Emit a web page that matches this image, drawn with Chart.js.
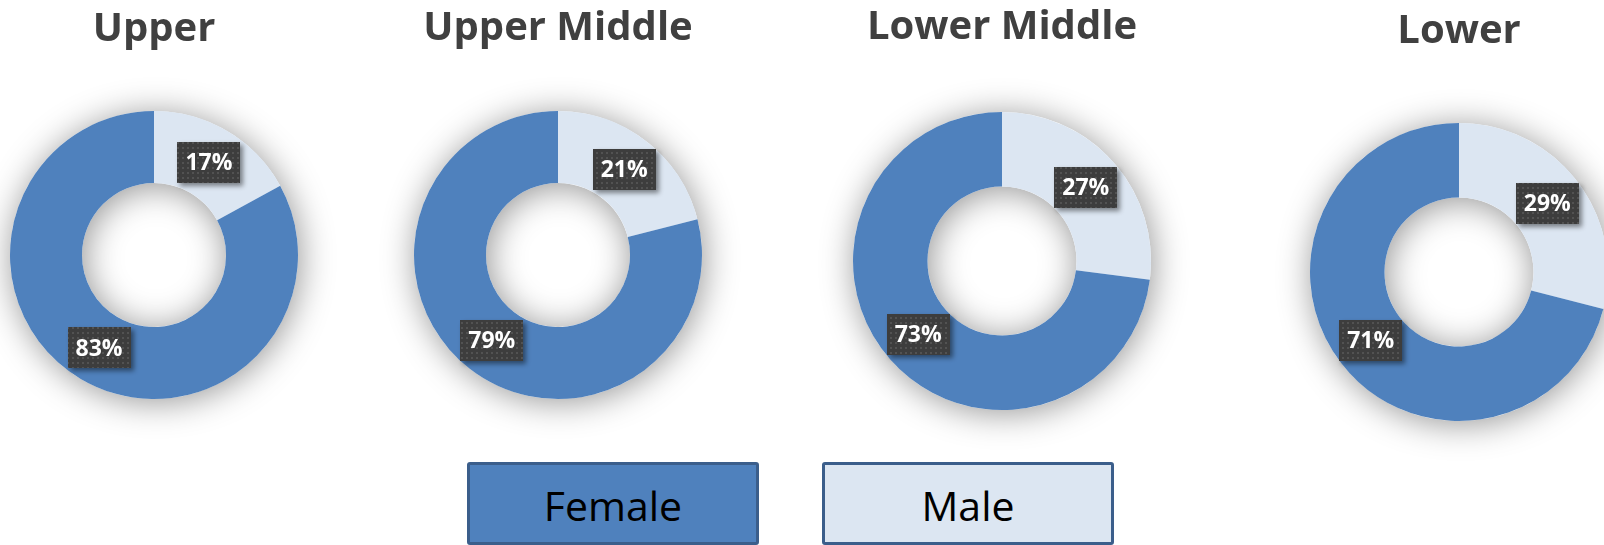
<!DOCTYPE html>
<html>
<head>
<meta charset="utf-8">
<script src="https://cdn.jsdelivr.net/npm/chart.js@4"></script>
<style>
  html, body { margin:0; padding:0; background:#fff; }
  body { width:1604px; height:545px; position:relative; overflow:hidden; font-family:'Open Sans', sans-serif; }
  canvas { position:absolute; top:0; }
  .key {
    position:absolute; top:462px; width:292px; height:83px; box-sizing:border-box;
    border:3px solid #3B5E8B; border-radius:3px;
    display:flex; align-items:center; justify-content:center;
    font-size:41px; color:#000; padding-top:3px;
  }
</style>
</head>
<body>
<canvas id="c0"></canvas>
<canvas id="c1"></canvas>
<canvas id="c2"></canvas>
<canvas id="c3"></canvas>
<div class="key" id="kFemale"></div>
<div class="key" id="kMale"></div>

<script>
// ---------- Data ----------
const classes     = ['Upper', 'Upper Middle', 'Lower Middle', 'Lower'];
const seriesNames = ['Male', 'Female'];           // Male starts at 12 o'clock
const male        = [17, 21, 27, 29];
const female      = [83, 79, 73, 71];
const legendOrder = ['Female', 'Male'];

const colors = { Male: '#DCE6F2', Female: '#4F81BD' };

// where each ring sits on the page (centre, outer radius, title baseline)
const slots = [
  { cx: 154,  cy: 255, r: 144, base: 40 },
  { cx: 558,  cy: 255, r: 144, base: 39.5 },
  { cx: 1002, cy: 261, r: 149, base: 38.5 },
  { cx: 1459, cy: 272, r: 149, base: 42 },
];
const margin = 50;
const titleSize = 40;

// ---------- Helpers ----------
function dotPattern(ctx) {
  const t = document.createElement('canvas');
  t.width = t.height = 5;
  const g = t.getContext('2d');
  g.fillStyle = '#3D3D3D';
  g.fillRect(0, 0, 5, 5);
  g.fillStyle = '#525252';
  g.fillRect(2, 2, 2, 2);
  return ctx.createPattern(t, 'repeat');
}

// soft shadow under the whole ring, drawn before the slices
const ringShadow = {
  id: 'ringShadow',
  beforeDatasetsDraw(chart) {
    const arc = chart.getDatasetMeta(0).data[0];
    if (!arc) return;
    const { x, y, innerRadius, outerRadius } = arc.getProps(['x', 'y', 'innerRadius', 'outerRadius'], true);
    const ctx = chart.ctx;
    ctx.save();
    ctx.shadowColor = 'rgba(0,0,0,0.42)';
    ctx.shadowBlur = 34;
    ctx.shadowOffsetX = 2;
    ctx.shadowOffsetY = 3;
    ctx.fillStyle = '#ffffff';
    ctx.beginPath();
    ctx.arc(x, y, outerRadius, 0, Math.PI * 2);
    ctx.arc(x, y, innerRadius, 0, Math.PI * 2, true);
    ctx.fill();
    ctx.restore();
  }
};

// dark boxed percentage labels at each slice centroid
const boxLabels = {
  id: 'boxLabels',
  afterDatasetsDraw(chart) {
    const ctx = chart.ctx;
    const pat = dotPattern(ctx);
    const ds = chart.data.datasets[0];
    chart.getDatasetMeta(0).data.forEach((arc, i) => {
      const p = arc.tooltipPosition(true);
      const txt = ds.data[i] + '%';
      ctx.save();
      ctx.font = 'bold 23px "Open Sans"';
      const w = ctx.measureText(txt).width + 16, h = 41;
      ctx.shadowColor = 'rgba(0,0,0,0.45)';
      ctx.shadowBlur = 5;
      ctx.shadowOffsetX = 3;
      ctx.shadowOffsetY = 3;
      ctx.fillStyle = pat;
      ctx.fillRect(Math.round(p.x - w / 2), Math.round(p.y - h / 2), Math.round(w), h);
      ctx.restore();
      ctx.save();
      ctx.font = 'bold 23px "Open Sans"';
      ctx.fillStyle = '#ffffff';
      ctx.textAlign = 'center';
      ctx.textBaseline = 'middle';
      ctx.fillText(txt, p.x, p.y + 1);
      ctx.restore();
    });
  }
};

// ---------- Charts ----------
classes.forEach((name, i) => {
  const s = slots[i];
  const cv = document.getElementById('c' + i);
  cv.width  = 2 * s.r + 2 * margin;
  cv.height = s.cy + s.r + margin;
  cv.style.left = (s.cx - s.r - margin) + 'px';

  const lineH = titleSize * 1.2;
  const padTop = s.base - 0.27 * titleSize - lineH / 2;
  const padBottom = (s.cy - s.r) - padTop - lineH;
  const values = [male[i], female[i]];

  new Chart(cv, {
    type: 'doughnut',
    data: {
      labels: seriesNames,
      datasets: [{
        data: values,
        backgroundColor: seriesNames.map(n => colors[n]),
        borderWidth: 0,
        hoverOffset: 0,
        offset: 0,
        spacing: 0
      }]
    },
    options: {
      responsive: false,
      animation: false,
      events: [],
      cutout: '50%',
      layout: { padding: { top: 0, left: margin, right: margin, bottom: margin } },
      plugins: {
        legend: { display: false },
        tooltip: { enabled: false },
        title: {
          display: true,
          text: name,
          color: '#404040',
          font: { family: 'Open Sans', size: titleSize, weight: 'bold', lineHeight: 1.2 },
          padding: { top: padTop, bottom: padBottom }
        }
      }
    },
    plugins: [ringShadow, boxLabels]
  });
});

// ---------- Legend ----------
const keyEls = { Female: document.getElementById('kFemale'), Male: document.getElementById('kMale') };
const keyLeft = { Female: 467, Male: 822 };
legendOrder.forEach(n => {
  keyEls[n].textContent = n;
  keyEls[n].style.background = colors[n];
  keyEls[n].style.left = keyLeft[n] + 'px';
});
</script>
</body>
</html>
